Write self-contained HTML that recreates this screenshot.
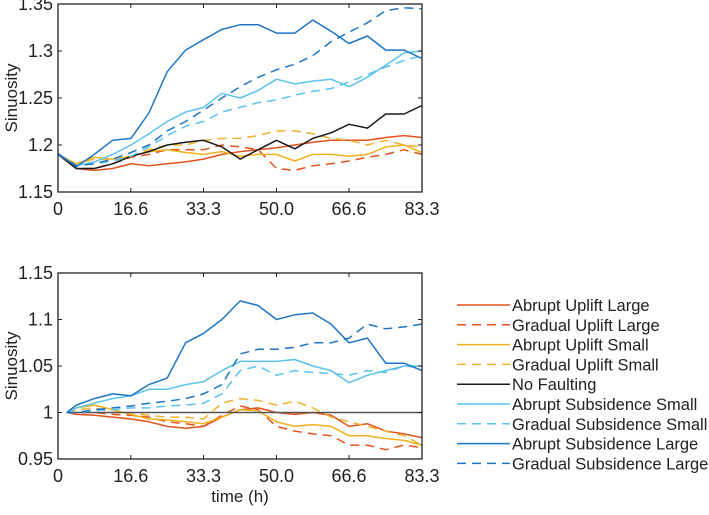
<!DOCTYPE html>
<html><head><meta charset="utf-8"><style>
body{margin:0;background:#fff;width:709px;height:510px;overflow:hidden}
svg text{font-family:"Liberation Sans",sans-serif;fill:#222}
</style></head><body>
<svg id="c" width="709" height="510"></svg>
<script>
const times=[0,4.2,8.3,12.5,16.7,20.8,25,29.2,33.3,37.5,41.7,45.8,50,54.2,58.3,62.5,66.6,70.8,75,79.2,83.3];
const xTicks=["0","16.6","33.3","50.0","66.6","83.3"];
const xTickVals=[0,16.66,33.3,50,66.6,83.3];
const topYTicks=[1.15,1.2,1.25,1.3,1.35];
const topYLabels=["1.15","1.2","1.25","1.3","1.35"];
const botYTicks=[0.95,1,1.05,1.1,1.15];
const botYLabels=["0.95","1","1.05","1.1","1.15"];
const seriesNames=["Abrupt Uplift Large","Gradual Uplift Large","Abrupt Uplift Small","Gradual Uplift Small","No Faulting","Abrupt Subsidence Small","Gradual Subsidence Small","Abrupt Subsidence Large","Gradual Subsidence Large"];
const topAUL=[1.19,1.175,1.173,1.175,1.18,1.178,1.18,1.182,1.185,1.19,1.193,1.195,1.197,1.2,1.203,1.205,1.205,1.205,1.208,1.21,1.208];
const topGUL=[1.19,1.175,1.175,1.18,1.187,1.19,1.195,1.195,1.195,1.2,1.198,1.195,1.175,1.173,1.178,1.18,1.183,1.187,1.19,1.195,1.19];
const topAUS=[1.19,1.18,1.187,1.185,1.188,1.193,1.195,1.192,1.19,1.193,1.188,1.19,1.19,1.183,1.19,1.19,1.188,1.19,1.198,1.2,1.192];
const topGUS=[1.19,1.18,1.185,1.185,1.188,1.195,1.2,1.2,1.205,1.207,1.207,1.21,1.215,1.215,1.212,1.207,1.205,1.2,1.205,1.2,1.198];
const topNF=[1.19,1.175,1.175,1.18,1.188,1.193,1.2,1.203,1.205,1.198,1.185,1.195,1.205,1.196,1.207,1.213,1.222,1.218,1.233,1.233,1.242];
const topASS=[1.19,1.178,1.182,1.19,1.2,1.212,1.225,1.235,1.24,1.255,1.25,1.258,1.27,1.265,1.268,1.27,1.262,1.272,1.285,1.298,1.3];
const topGSS=[1.19,1.178,1.18,1.183,1.188,1.198,1.21,1.22,1.225,1.235,1.24,1.245,1.248,1.253,1.257,1.26,1.267,1.275,1.283,1.29,1.295];
const topASL=[1.191,1.177,1.19,1.205,1.207,1.234,1.278,1.301,1.312,1.323,1.328,1.328,1.319,1.319,1.333,1.321,1.308,1.316,1.301,1.301,1.292];
const topGSL=[1.19,1.178,1.18,1.185,1.192,1.2,1.215,1.225,1.237,1.25,1.262,1.272,1.28,1.286,1.295,1.31,1.32,1.33,1.343,1.346,1.345];
const botTimes=[2,4.2,8.3,12.5,16.7,20.8,25,29.2,33.3,37.5,41.7,45.8,50,54.2,58.3,62.5,66.6,70.8,75,79.2,83.3];
const botAUL=[1,0.998,0.997,0.995,0.993,0.99,0.985,0.983,0.985,0.995,1.003,1.005,1,0.998,1,0.997,0.985,0.988,0.98,0.977,0.973];
const botGUL=[1,1,1,0.998,0.997,0.995,0.99,0.988,0.985,0.997,1.007,1.003,0.985,0.98,0.977,0.975,0.965,0.965,0.96,0.965,0.962];
const botAUS=[1,1.005,1.008,1.003,0.998,0.993,0.992,0.99,0.988,0.995,1.003,1.002,0.99,0.985,0.987,0.985,0.975,0.975,0.972,0.97,0.965];
const botGUS=[1,1.003,1.005,1,1,0.997,0.995,0.995,0.993,1.01,1.015,1.013,1.008,1.012,1.005,0.995,0.99,0.985,0.98,0.975,0.965];
const botNF=[1,1,1,1,1,1,1,1,1,1,1,1,1,1,1,1,1,1,1,1,1];
const botASS=[1,1.005,1.01,1.015,1.018,1.025,1.025,1.03,1.033,1.045,1.055,1.055,1.055,1.057,1.05,1.045,1.032,1.04,1.045,1.05,1.05];
const botGSS=[1,1,1.002,1.003,1.005,1.005,1.007,1.008,1.01,1.02,1.045,1.05,1.04,1.045,1.043,1.042,1.04,1.045,1.043,1.05,1.048];
const botASL=[1,1.008,1.015,1.02,1.018,1.03,1.037,1.075,1.085,1.1,1.12,1.115,1.1,1.105,1.107,1.095,1.075,1.08,1.053,1.053,1.045];
const botGSL=[1,1,1.003,1.005,1.007,1.01,1.012,1.015,1.02,1.03,1.063,1.068,1.068,1.07,1.075,1.075,1.08,1.095,1.09,1.092,1.095];

const colors=["#e2531e","#e2531e","#f2b01c","#f0b030","#1a1a1a","#5cc3ee","#5cc3ee","#1f76c4","#1f76c4"];
const dashed=[false,true,false,true,false,false,true,false,true];
const NS="http://www.w3.org/2000/svg";
const svg=document.getElementById('c');
function mk(tag,attrs,parent){const e=document.createElementNS(NS,tag);for(const k in attrs)e.setAttribute(k,attrs[k]);(parent||svg).appendChild(e);return e;}
const X0=58,X1=422;
function xs(t){return X0+(t/83.3)*(X1-X0);}

function panel(name,top,bot,ymin,ymax,yt,yl,tt,series,keys,noFaultGray){
  const ys=v=>bot-(v-ymin)/(ymax-ymin)*(bot-top);
  const g=mk('g',{});
  
  
  series.forEach((s,i)=>{
    const d=s.map((v,j)=>(j?'L':'M')+xs(tt[j]).toFixed(1)+' '+ys(v).toFixed(1)).join(' ');
    const p=mk('path',{d:d,fill:'none',stroke:(noFaultGray&&i===4)?'#555':colors[i],'stroke-width':1.5,'stroke-dasharray':dashed[i]?'9 6':'none','stroke-linejoin':'round'},g);
    
    
  });
  const box=mk('rect',{x:X0,y:top,width:X1-X0,height:bot-top,fill:'none',stroke:'#222','stroke-width':1.3},g);
  
  
  yt.forEach((v,i)=>{
    const y=ys(v);
    mk('line',{x1:X0,x2:X0+4,y1:y,y2:y,stroke:'#222'},g);
    mk('line',{x1:X1,x2:X1-4,y1:y,y2:y,stroke:'#222'},g);
    const t=mk('text',{x:X0-5,y:y+6,'text-anchor':'end','font-size':18},g);t.textContent=yl[i];
    
    
  });
  xTickVals.forEach((v,i)=>{
    const x=xs(v);
    mk('line',{x1:x,x2:x,y1:bot,y2:bot-4,stroke:'#222'},g);
    mk('line',{x1:x,x2:x,y1:top,y2:top+4,stroke:'#222'},g);
    const t=mk('text',{x:x,y:bot+23,'text-anchor':'middle','font-size':18},g);t.textContent=xTicks[i];
    
    
  });
  const yl2=mk('text',{x:0,y:0,'text-anchor':'middle','font-size':17,transform:`translate(17,${(top+bot)/2}) rotate(-90)`},g);
  yl2.textContent='Sinuosity';
  
  
}
panel('top-panel',4,192,1.15,1.35,topYTicks,topYLabels,times,[topAUL,topGUL,topAUS,topGUS,topNF,topASS,topGSS,topASL,topGSL],'top',false);
panel('bottom-panel',273,459,0.95,1.15,botYTicks,botYLabels,botTimes,[botAUL,botGUL,botAUS,botGUS,botNF,botASS,botGSS,botASL,botGSL],'bottom',true);
const xt=mk('text',{x:240,y:502,'text-anchor':'middle','font-size':17});
xt.textContent='time (h)';


const lg=mk('g',{});


seriesNames.forEach((n,i)=>{
  const y=305+i*19.8;
  mk('line',{x1:457,x2:510,y1:y,y2:y,stroke:colors[i],'stroke-width':1.5,'stroke-dasharray':dashed[i]?'9 6':'none'},lg);
  const t=mk('text',{x:512,y:y+6,'font-size':16.5},lg);t.textContent=n;
  
  
});
</script>
</body></html>
